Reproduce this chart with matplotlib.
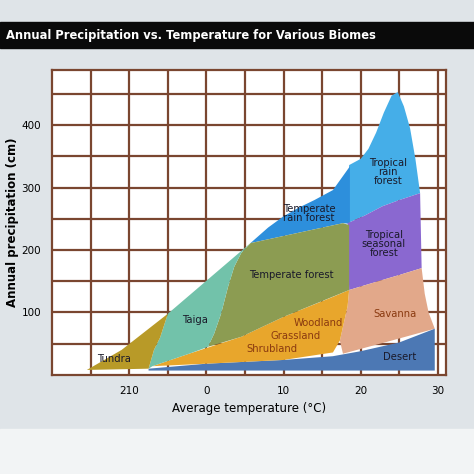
import matplotlib
matplotlib.use("Agg")
import matplotlib.pyplot as plt
from matplotlib.patches import Polygon, Rectangle

xticks = [-10, 0, 10, 20, 30]
xtick_labels = ["210", "0", "10", "20", "30"]
yticks = [100, 200, 300, 400]

biomes = {
 "Tropical rain forest": [(18.3,243),(18.5,336),(20,346),(21,362),(22,388),(23,420),(24,447),(24.8,453),(25.6,430),(26.4,395),(27.1,345),(27.7,291),(25,280),(22.8,270),(20.5,255)],
 "Temperate rain forest": [(5.7,211),(8,236),(10,254),(12,268),(14,280),(16.4,296),(18.6,334),(18.6,242),(17.7,243)],
 "Tropical seasonal forest": [(18.3,243),(20.5,255),(22.8,270),(25,280),(27.7,291),(27.9,171),(25,160),(22.8,152),(18.5,136)],
 "Savanna": [(18.5,136),(22.8,152),(25,160),(27.9,171),(28.3,130),(28.8,100),(29.6,74),(24,55),(17.7,34),(17.3,55),(17.7,77),(18.3,110)],
 "Desert": [(-7.5,10),(0,18),(10,24),(16.4,30),(20,38),(25,52),(29.6,74),(29.6,7),(-7.5,7)],
 "Woodland Grassland Shrubland": [(-7,14),(-2,35),(4.5,61),(10,93),(16.4,125),(18.5,136),(18.3,110),(17.7,77),(17.3,55),(16.4,36),(10,24),(0,18)],
 "Temperate forest": [(5.7,211),(17.7,243),(18.5,240),(18.5,136),(10,93),(4.5,61),(0.2,45),(1,66),(1.9,98),(2.8,141),(3.6,173),(4.5,195)],
 "Taiga": [(-5,98),(5.7,211),(4.5,195),(3.6,173),(2.8,141),(1.9,98),(1,66),(0.2,45),(-2,35),(-7,14),(-7.5,10),(-6.8,40),(-6,60)],
 "Tundra": [(-15.5,8),(-11,40),(-5,98),(-6,60),(-6.8,40),(-7.5,10)],
}
colors = {
 "Tropical rain forest": "#45aee8", "Temperate rain forest": "#2d8fdc",
 "Tropical seasonal forest": "#8a68d0", "Savanna": "#e2a88a", "Desert": "#4c78b4",
 "Woodland Grassland Shrubland": "#e8a62c", "Temperate forest": "#8c9c52",
 "Taiga": "#72c2aa", "Tundra": "#b89a28",
}
labels = [
 ("Tropical\nrain\nforest", 23.5, 325), ("Temperate\nrain forest", 13.3, 258),
 ("Tropical\nseasonal\nforest", 23, 210), ("Temperate forest", 11, 160),
 ("Taiga", -1.5, 88), ("Woodland", 14.5, 83), ("Grassland", 11.5, 62),
 ("Shrubland", 8.5, 41), ("Tundra", -12, 25), ("Savanna", 24.5, 97), ("Desert", 25, 28),
]

fig = plt.figure(figsize=(4.74, 4.74), dpi=100, facecolor="#dfe4e8")
fig.patches.append(Rectangle((0, 1-48/474), 1, 26/474, transform=fig.transFigure, color="#0a0a0a", zorder=0))
fig.text(0.012, 1-35/474, "Annual Precipitation vs. Temperature for Various Biomes",
         color="white", fontsize=8.3, fontweight="bold", va="center")
fig.patches.append(Rectangle((0, 0), 1, 45/474, transform=fig.transFigure, color="#f2f4f5", zorder=0))

ax = fig.add_axes([0.11, 0.209, 0.83, 0.643])
ax.set_facecolor("white")
ax.set_xlim(-20, 31)
ax.set_ylim(0, 488)
for x in range(-15, 31, 5):
    ax.axvline(x, color="#7a4630", lw=1.6, zorder=1)
for y in range(50, 488, 50):
    ax.axhline(y, color="#7a4630", lw=1.6, zorder=1)
for name, pts in biomes.items():
    ax.add_patch(Polygon(pts, closed=True, fc=colors[name], ec="none", zorder=2))
for t, x, y in labels:
    c = "#8a3a10" if t in ("Woodland", "Grassland", "Shrubland", "Savanna") else "#1a1a2a"
    ax.text(x, y, t, ha="center", va="center", fontsize=7.2, color=c, zorder=3, linespacing=0.9)
ax.set_xticks(xticks)
ax.set_xticklabels(xtick_labels, fontsize=7.5)
ax.set_yticks(yticks)
ax.set_yticklabels([str(v) for v in yticks], fontsize=7.5)
ax.tick_params(length=0, pad=8)
for s in ax.spines.values():
    s.set_color("#7a4630"); s.set_linewidth(1.6)
ax.set_xlabel("Average temperature (°C)", fontsize=8.5)
ax.set_ylabel("Annual precipitation (cm)", fontsize=8.5, fontweight="bold", labelpad=2)
fig.savefig("out.png", dpi=100, facecolor=fig.get_facecolor())
